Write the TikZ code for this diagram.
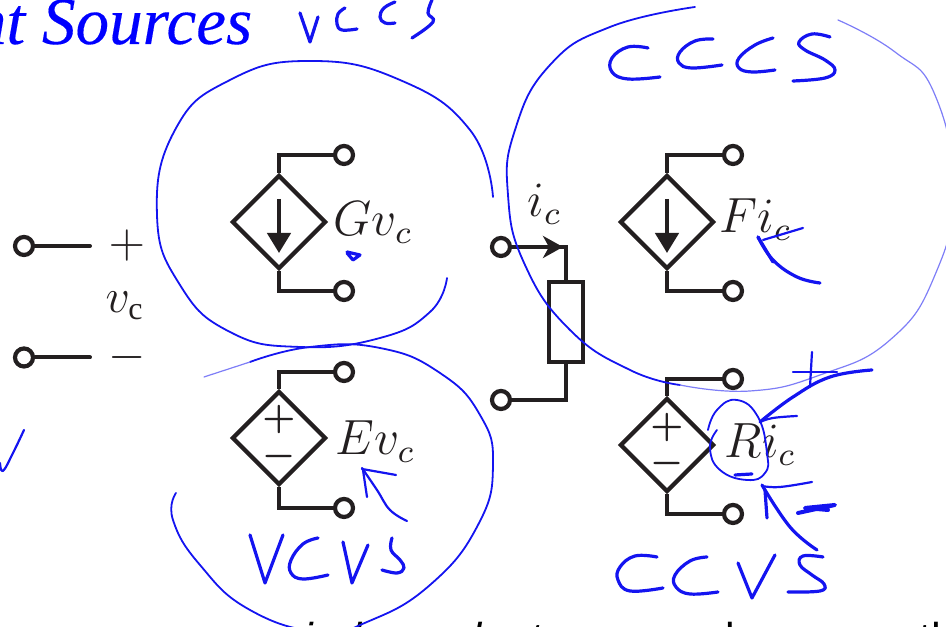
\documentclass[tikz,border=0pt]{standalone}
\usepackage{fontspec}
\setmainfont{Liberation Serif}
\setsansfont{Liberation Sans}
\usetikzlibrary{arrows.meta,positioning,shapes.geometric}
\definecolor{wirecol}{RGB}{35,31,32}
\definecolor{inkcol}{RGB}{20,20,240}
\tikzset{
  wire/.style={line width=1pt,draw=wirecol},
  terminal/.style={circle,draw=wirecol,line width=1.05pt,fill=white,inner sep=0pt,minimum size=4.5pt},
  source/.style={diamond,draw=wirecol,line width=1.05pt,inner sep=0pt,minimum width=23.5pt,minimum height=23.5pt},
  label/.style={inner sep=0pt,anchor=base west,font=\large,text=wirecol,transform shape,scale=1.03},
  sign/.style={inner sep=0pt,text=wirecol},
  ink/.style={draw=inkcol,line width=.55pt,line cap=round,line join=round,tension=.7},
  inkthin/.style={draw=inkcol!55,line width=.3pt,line cap=round,tension=.8},
  pen/.style={ink,line width=.8pt},
  loop/.style={ink,line width=.45pt,smooth,tension=.8}
}
\begin{document}
\begin{tikzpicture}[x=.25pt,y=-.25pt]
  \useasboundingbox (0,0) rectangle (946,627);
  \clip (0,0) rectangle (946,627);

  \node[inner sep=0pt,anchor=base east,font=\fontsize{16.8}{17}\itshape\addfontfeature{FakeBold=0.2},text=blue] (title) at (253,44) {nt Sources};

  % terminals
  \begin{scope}[every node/.style={terminal}]
    \node (inP)  at (24,246)  {};
    \node (inN)  at (24,357.5) {};
    \node (gT)   at (344,155) {};
    \node (gB)   at (344,291) {};
    \node (eT)   at (344,372) {};
    \node (eB)   at (344,508) {};
    \node (fT)   at (733,155) {};
    \node (fB)   at (733,291) {};
    \node (rT)   at (733,379) {};
    \node (rB)   at (733,514) {};
    \node (icT)  at (501,247) {};
    \node (icB)  at (501,400) {};
  \end{scope}

  % sources
  \begin{scope}[every node/.style={source}]
    \node (g) at (279,222) {};
    \node (e) at (279,438) {};
    \node (f) at (667,222) {};
    \node (r) at (667,445) {};
  \end{scope}
  \node[draw=wirecol,line width=1pt,inner sep=0pt,minimum width=8.5pt,minimum height=20pt] (res) at (566.5,322.5) {};

  \coordinate (inPe) at (90,246);
  \coordinate (inNe) at (90,357.5);
  \coordinate (gA1) at (279,199);
  \coordinate (gA2) at (279,253);
  \coordinate (fA1) at (667,199);
  \coordinate (fA2) at (667,253);
  \coordinate (icA) at (563,247);

  \begin{scope}[every path/.style={wire}]
    \draw[line cap=round] (inP) -- (inPe);
    \draw[line cap=round] (inN) -- (inNe);
    \draw (g.north) |- (gT);
    \draw (g.south) |- (gB);
    \draw (e.north) |- (eT);
    \draw (e.south) |- (eB);
    \draw (f.north) |- (fT);
    \draw (f.south) |- (fB);
    \draw (r.north) |- (rT);
    \draw (r.south) |- (rB);
    \draw (icT) -| (res.north);
    \draw (icB) -| (res.south);
    \draw[-{Stealth[length=5pt,width=5.5pt,inset=1.5pt]}] (icT) -- (icA);
    \draw[-{Triangle[length=5pt,width=5.8pt]}] (gA1) -- (gA2);
    \draw[-{Triangle[length=5pt,width=5.8pt]}] (fA1) -- (fA2);
  \end{scope}

  \node[sign,font=\small\boldmath] (eP) at (279,420) {$+$};
  \node[sign,font=\small\boldmath] (eM) at (279,457) {$-$};
  \node[sign,font=\small\boldmath] (rP) at (667,428) {$+$};
  \node[sign,font=\small\boldmath] (rM) at (667,464) {$-$};

  \node[sign,font=\large] (plus)  at (127,246) {$+$};
  \node[sign,font=\large] (minus) at (127,358) {$-$};
  \node[sign,font=\large] (vc)    at (125,306) {$v_{\mathrm{c}}$};

  \node[label] (gL) at (333,236) {$Gv_c$};
  \node[label] (eL) at (335,455) {$Ev_c$};
  \node[label] (fL) at (719,233) {$Fi_c$};
  \node[label] (rL) at (724,458) {$Ri_c$};
  \node[label] (iL) at (527,217) {$i_c$};

  % bottom line, cut off by the page
  \begin{scope}[every node/.style={inner sep=0pt,anchor=base west,font=\fontsize{10.8}{11}\sffamily}]
    \node[font=\fontsize{10.8}{11}\sffamily\itshape] (word) at (303,654) {independent};
    \node (stem) at (725,654) {l};
    \node (last) at (919,654) {the};
  \end{scope}

  % loops
  \draw[loop] plot coordinates {(493,197) (470,130) (400,80) (310,61) (230,80) (175,130) (157,215) (180,285) (230,332) (300,347) (380,338) (430,312) (447,278)};
  \draw[loop] plot coordinates {(250,362) (310,347) (380,348) (440,373) (480,415) (493,465) (478,525) (430,585) (367,622) (320,632) (250,610) (200,565) (173,520) (176,493)};
  \draw[inkthin] (204,377) -- (250,362);
  \draw[loop] plot coordinates {(695,7) (610,27) (550,65) (515,130) (508,195) (525,265) (570,330) (630,370) (680,385)};
  \draw[inkthin,smooth] plot coordinates {(680,385) (750,391) (820,375) (890,340) (935,275) (953,190) (935,95) (895,52) (838,20)};

  % letters
  \draw[pen] (300,13) -- (310,42) -- (318,17);
  \draw[pen,smooth] plot coordinates {(345,8) (338,14) (337,24) (342,30) (357,29)};
  \draw[pen,smooth] plot coordinates {(395,2) (384,8) (380,17) (385,23) (395,23)};
  \draw[pen,smooth] plot coordinates {(432,0) (428,13) (433,22) (412,38)};

  \draw[pen,smooth] plot coordinates {(648,48) (628,47) (612,58) (612,72) (628,79) (660,77)};
  \draw[pen,smooth] plot coordinates {(713,39) (695,41) (680,52) (679,63) (692,68) (722,65)};
  \draw[pen,smooth] plot coordinates {(773,38) (755,45) (739,58) (739,68) (752,72) (775,70)};
  \draw[pen,smooth] plot coordinates {(830,37) (812,34) (799,42) (805,50) (825,60) (835,70) (825,78) (793,81)};

  \draw[pen] (250,535) -- (265,583) -- (283,535);
  \draw[pen,smooth] plot coordinates {(318,538) (303,544) (291,560) (291,573) (303,579) (328,575)};
  \draw[pen] (343,542) -- (352,583) -- (368,545);
  \draw[pen,smooth] plot coordinates {(392,538) (391,550) (400,560) (404,568) (397,573) (382,570)};

  \draw[pen,smooth] plot coordinates {(657,557) (635,556) (620,567) (618,580) (630,591) (663,588)};
  \draw[pen,smooth] plot coordinates {(707,557) (690,561) (675,575) (676,587) (690,594) (718,592)};
  \draw[pen] (738,563) -- (752,598) -- (775,555);
  \draw[pen,smooth] plot coordinates {(823,557) (803,556) (800,565) (812,575) (824,584) (820,591) (788,592)};

  % marks
  \draw[ink,smooth] plot coordinates {(0,463) (3,471) (13,453) (24,430)};
  \draw[pen] (347,252) -- (360,255) -- (353,260) -- (347,253);

  \draw[pen,smooth] plot coordinates {(820,283) (797,277) (773,260) (758,237)};
  \draw[pen] (758,237) -- (773,262);
  \draw[ink] (763,240) -- (803,228);

  \draw[ink,smooth] plot coordinates {(407,521) (390,510) (377,490) (362,468)};
  \draw[ink] (362,469) -- (396,475);
  \draw[ink] (363,470) -- (367,497);

  \draw[ink] (812,352) -- (810,387);
  \draw[ink] (793,372) -- (837,372);
  \draw[pen,smooth] plot coordinates {(872,370) (830,377) (793,397) (760,422)};
  \draw[ink,smooth] plot coordinates {(797,416) (773,418) (760,422)};
  \draw[loop] plot coordinates {(717,430) (710,448) (720,470) (747,480) (765,473) (767,453) (758,417) (737,400) (717,410) (708,430)};
  \draw[pen] (735,475) -- (752,474);
  \draw[pen,smooth] plot coordinates {(817,550) (790,527) (762,485)};
  \draw[ink,smooth] plot coordinates {(762,486) (780,487) (812,482)};
  \draw[pen] (765,490) -- (767,518);
  \draw[pen,line width=1pt] (798,513) -- (835,505) -- (805,508) -- (828,510);
\end{tikzpicture}
\end{document}
